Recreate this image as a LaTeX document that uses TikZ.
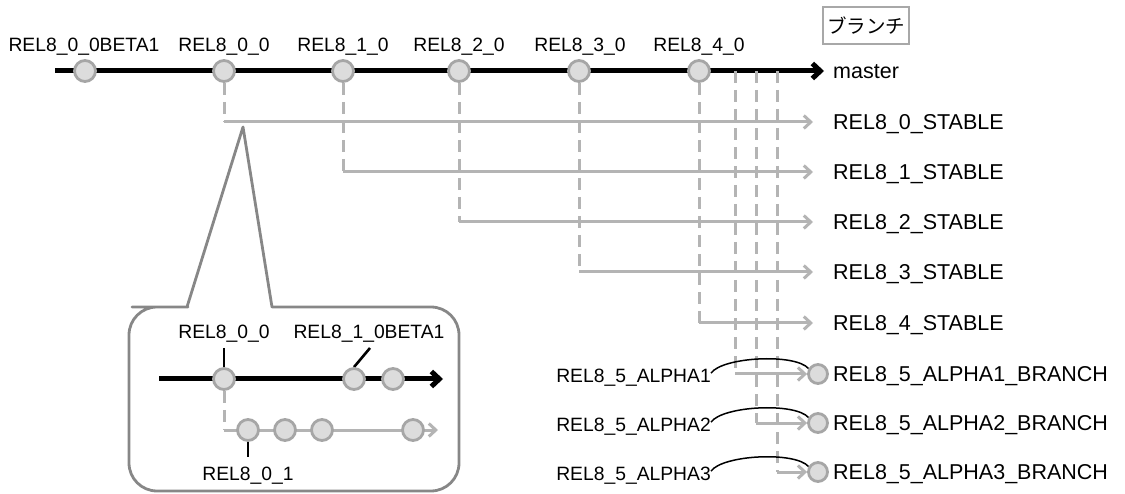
\documentclass[tikz,border=0pt]{standalone}
\usepackage{fontspec}
\setmainfont{Liberation Sans}
\newfontfamily\jpfont{Noto Sans CJK JP}
\usetikzlibrary{arrows.meta,backgrounds}
\definecolor{commitfill}{HTML}{DCDCDC}
\definecolor{commitline}{HTML}{A6A6A6}
\definecolor{branchgray}{HTML}{B4B4B4}
\definecolor{calloutgray}{HTML}{878787}
\definecolor{boxgray}{HTML}{A8A8A8}
\begin{document}
\begin{tikzpicture}[x=1pt,y=-1pt,
  commit/.style={circle,fill=commitfill,draw=commitline,line width=2.8pt,minimum size=21pt,inner sep=0},
  headcommit/.style={commit,minimum size=19pt},
  trunk/.style={line width=5pt,-{Straight Barb[length=8pt,width=15pt]}},
  grayline/.style={draw=branchgray,line width=3pt,-{Straight Barb[length=7pt,width=13pt]}},
  graydash/.style={draw=branchgray,line width=3pt,dash pattern=on 12pt off 7pt},
  ticker/.style={line width=2.6pt},
  arcline/.style={line width=1.5pt},
  reltag/.style={font=\fontsize{19.3pt}{23pt}\selectfont,inner sep=0,anchor=base},
  brlabel/.style={font=\fontsize{21.5pt}{26pt}\selectfont,inner sep=0,anchor=base west}]
\useasboundingbox (0,0) rectangle (1125,494);

% trunk commits and tags
\node[commit] (c0) at (85,71) {};
\node[commit] (c1) at (224,71) {};
\node[commit] (c2) at (343,71) {};
\node[commit] (c3) at (459,71) {};
\node[commit] (c4) at (579,71) {};
\node[commit] (c5) at (699,71) {};
\node[reltag] (t0) at (84,51.5) {REL8\_0\_0BETA1};
\node[reltag] (t1) at (224,51.5) {REL8\_0\_0};
\node[reltag] (t2) at (343,51.5) {REL8\_1\_0};
\node[reltag] (t3) at (459,51.5) {REL8\_2\_0};
\node[reltag] (t4) at (580,51.5) {REL8\_3\_0};
\node[reltag] (t5) at (699,51.5) {REL8\_4\_0};

\coordinate (mstart) at (55,71);
\coordinate (mtip) at (824,71);
\node[brlabel] (master) at (833,79) {master};

\node[draw=boxgray,line width=2.8pt,minimum width=86pt,minimum height=37pt,inner sep=0,
  font=\jpfont\fontsize{19.5pt}{21pt}\selectfont] (legend) at (866,25.5) {ブランチ};

% stable branches
\coordinate (e0) at (813,122);
\coordinate (e1) at (813,172);
\coordinate (e2) at (813,222);
\coordinate (e3) at (813,272);
\coordinate (e4) at (813,323);
\node[brlabel] (s0) at (833,130) {REL8\_0\_STABLE};
\node[brlabel] (s1) at (833,180) {REL8\_1\_STABLE};
\node[brlabel] (s2) at (833,230) {REL8\_2\_STABLE};
\node[brlabel] (s3) at (833,280) {REL8\_3\_STABLE};
\node[brlabel] (s4) at (833,331) {REL8\_4\_STABLE};

% alpha branches
\coordinate (f1) at (735,71);
\coordinate (f2) at (756,71);
\coordinate (f3) at (777,71);
\node[headcommit] (a1) at (818,374) {};
\node[headcommit] (a2) at (818,423) {};
\node[headcommit] (a3) at (818,472) {};
\node[brlabel] (n1) at (833,381.5) {REL8\_5\_ALPHA1\_BRANCH};
\node[brlabel] (n2) at (833,430.5) {REL8\_5\_ALPHA2\_BRANCH};
\node[brlabel] (n3) at (833,479.5) {REL8\_5\_ALPHA3\_BRANCH};
\node[reltag,anchor=base east] (l1) at (711,382) {REL8\_5\_ALPHA1};
\node[reltag,anchor=base east] (l2) at (711,431) {REL8\_5\_ALPHA2};
\node[reltag,anchor=base east] (l3) at (711,480) {REL8\_5\_ALPHA3};

% detail view
\node[commit] (ic1) at (224,379) {};
\node[commit] (ic2) at (354,379) {};
\node[commit] (ic3) at (393,379) {};
\node[commit] (ib1) at (248,430) {};
\node[commit] (ib2) at (285,430) {};
\node[commit] (ib3) at (322,430) {};
\node[commit] (ib4) at (413,430) {};
\coordinate (istart) at (159,379);
\coordinate (itip) at (443,379);
\coordinate (jtip) at (438,430);
\node[reltag] (il1) at (224,339) {REL8\_0\_0};
\node[reltag] (il2) at (369,339) {REL8\_1\_0BETA1};
\node[reltag] (il3) at (248,480) {REL8\_0\_1};
\coordinate (k1) at (224,348);
\coordinate (k2) at (370,348);
\coordinate (k3) at (248,457);

\draw[calloutgray,line width=2.8pt,line join=round]
  (272,307) -- (300,307) [rounded corners=28pt] -- (459,307) -- (459,491)
  -- (129,491) -- (129,307) -- (160,307) [sharp corners] -- (187,307)
  -- (243,127) -- cycle;

\begin{scope}[on background layer]
  \draw[trunk] (mstart) -- (mtip);
  \draw[graydash] (c1.south) -- (c1 |- e0);
  \draw[graydash] (c2.south) -- (c2 |- e1);
  \draw[graydash] (c3.south) -- (c3 |- e2);
  \draw[graydash] (c4.south) -- (c4 |- e3);
  \draw[graydash] (c5.south) -- (c5 |- e4);
  \draw[grayline] (c1 |- e0) -- (e0);
  \draw[grayline] (c2 |- e1) -- (e1);
  \draw[grayline] (c3 |- e2) -- (e2);
  \draw[grayline] (c4 |- e3) -- (e3);
  \draw[grayline] (c5 |- e4) -- (e4);
  \draw[graydash] (f1) -- (f1 |- a1);
  \draw[graydash] (f2) -- (f2 |- a2);
  \draw[graydash] (f3) -- (f3 |- a3);
  \draw[grayline] (f1 |- a1) -- (a1.west);
  \draw[grayline] (f2 |- a2) -- (a2.west);
  \draw[grayline] (f3 |- a3) -- (a3.west);
  \draw[arcline] ([yshift=4pt]l1.east) .. controls (722,357) and (795,353) .. (a1.150);
  \draw[arcline] ([yshift=4pt]l2.east) .. controls (722,406) and (795,402) .. (a2.150);
  \draw[arcline] ([yshift=4pt]l3.east) .. controls (722,455) and (795,451) .. (a3.150);
  % detail view connectors
  \draw[trunk] (istart) -- (itip);
  \draw[graydash] (ic1.south) -- (ic1 |- ib1);
  \draw[grayline] (ic1 |- ib1) -- (jtip);
  \draw[ticker] (k1) -- (ic1.north);
  \draw[ticker] (k2) -- (ic2.north);
  \draw[ticker] (ib1.south) -- (k3);
\end{scope}
\end{tikzpicture}
\end{document}
